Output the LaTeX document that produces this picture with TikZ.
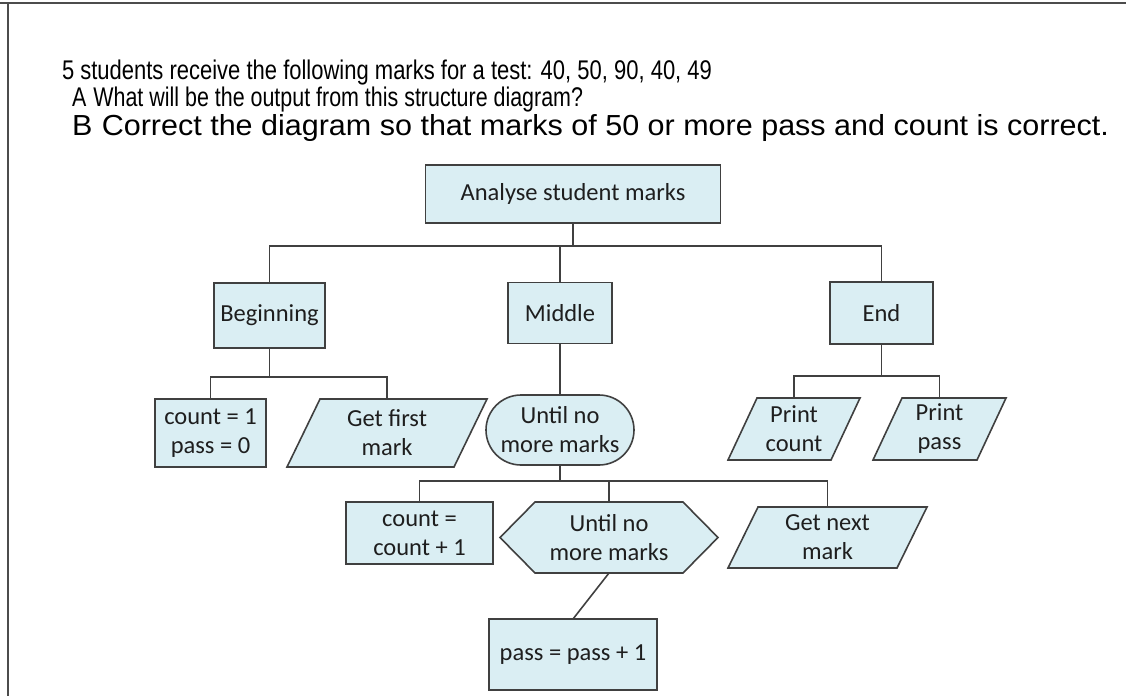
\documentclass[tikz,border=0pt]{standalone}
\usepackage{fontspec}
\setmainfont{Carlito}
\newfontfamily\arialf{Liberation Sans}
\usetikzlibrary{calc,backgrounds}
\definecolor{boxfill}{RGB}{218,238,243}
\definecolor{boxline}{RGB}{64,64,64}
\definecolor{txt}{RGB}{30,30,30}
\tikzset{
  every node/.style={inner sep=0pt, outer sep=0pt, text=txt, align=center,
    font=\fontsize{24.5}{29}\selectfont},
  box/.style={draw=boxline, fill=boxfill, line width=1.6pt, rectangle},
  stadium/.style={draw=boxline, fill=boxfill, line width=1.6pt, rectangle, rounded corners=35pt},
  ghost/.style={rectangle, draw=none},
  outline/.style={draw=boxline, fill=boxfill, line width=1.6pt, line join=miter},
  conn/.style={draw=boxline, line width=1.6pt},
  title/.style={anchor=west, font=\arialf\fontsize{27}{30}\selectfont, text=black},
  titleb/.style={anchor=west, font=\arialf\fontsize{29}{32}\selectfont, text=black},
  frame/.style={draw=black!70, line width=2pt}
}
\newcommand{\fitw}[2]{\resizebox{#1}{\height}{#2}}
\begin{document}
\begin{tikzpicture}[x=1pt,y=-1pt]
\useasboundingbox (0,0) rectangle (1126,696);
\draw[frame] (0,3) -- (1126,3);
\draw[frame] (8,3) -- (8,696);

% title
\node[title] (t1) at (62,73) {\fitw{650pt}{5 students receive the following marks for a test: 40, 50, 90, 40, 49}};
\node[title] (t2) at (72,100) {\fitw{511pt}{A\hspace{9pt}What will be the output from this structure diagram?}};
\node[titleb] (t3) at (72,128) {\fitw{1037pt}{B\hspace{9pt}Correct the diagram so that marks of 50 or more pass and count is correct.}};

% nodes
\node[box, minimum width=295, minimum height=58] (analyse) at (573,194) {Analyse student marks};
\node[box, minimum width=111, minimum height=65] (begin) at (269.5,315.5) {Beginning};
\node[box, minimum width=104, minimum height=61] (middle) at (560,313) {Middle};
\node[box, minimum width=103, minimum height=62] (end) at (881.5,313) {End};
\node[box, minimum width=111, minimum height=68] (cnt1) at (210.5,433) {count = 1\\pass = 0};
\node[ghost, minimum width=200, minimum height=68] (getfirst) at (387,433) {Get first\\mark};
\node[stadium, minimum width=148, minimum height=70] (until1) at (560,430) {Until no\\more marks};
\node[ghost, minimum width=132, minimum height=62] (printcount) at (794,429) {Print\\count};
\node[ghost, minimum width=133, minimum height=62] (printpass) at (939.5,429) {Print\\pass};
\node[box, minimum width=147, minimum height=62] (cnt2) at (419.5,533) {count =\\count + 1};
\node[ghost, minimum width=218, minimum height=71] (hex) at (609,537.5) {Until no\\more marks};
\node[ghost, minimum width=199, minimum height=61] (getnext) at (827.5,537.5) {Get next\\mark};
\node[box, minimum width=168, minimum height=71] (passbox) at (573,654.5) {pass = pass + 1};

% custom outlines behind the text nodes
\begin{pgfonlayer}{background}
\path[outline] (getfirst.south west) -- ($(getfirst.north west)+(33,0)$) -- (getfirst.north east) -- ($(getfirst.south east)+(-33,0)$) -- cycle;
\path[outline] (printcount.south west) -- ($(printcount.north west)+(29,0)$) -- (printcount.north east) -- ($(printcount.south east)+(-29,0)$) -- cycle;
\path[outline] (printpass.south west) -- ($(printpass.north west)+(29,0)$) -- (printpass.north east) -- ($(printpass.south east)+(-29,0)$) -- cycle;
\path[outline] (getnext.south west) -- ($(getnext.north west)+(30,0)$) -- (getnext.north east) -- ($(getnext.south east)+(-30,0)$) -- cycle;
\path[outline] (hex.west) -- ($(hex.north west)+(35,0)$) -- ($(hex.north east)+(-35,0)$) -- (hex.east) -- ($(hex.south east)+(-35,0)$) -- ($(hex.south west)+(35,0)$) -- cycle;
\end{pgfonlayer}

% connectors
\coordinate (bus1) at (573,246);
\coordinate (bus2) at (269.5,377);
\coordinate (bus3) at (881.5,376);
\coordinate (bus4) at (560,481);
\draw[conn] (analyse.south) -- (bus1);
\draw[conn] (bus1) -| (begin.north);
\draw[conn] (bus1) -| (middle.north);
\draw[conn] (bus1) -| (end.north);
\draw[conn] (begin.south) -- (bus2);
\draw[conn] (bus2) -| (cnt1.north);
\draw[conn] (bus2) -| (getfirst.north);
\draw[conn] (middle.south) -- (until1.north);
\draw[conn] (end.south) -- (bus3);
\draw[conn] (bus3) -| (printcount.north);
\draw[conn] (bus3) -| (printpass.north);
\draw[conn] (until1.south) -- (bus4);
\draw[conn] (bus4) -| (cnt2.north);
\draw[conn] (bus4) -| (hex.north);
\draw[conn] (bus4) -| (getnext.north);
\draw[conn] (hex.south) -- (passbox.north);
\end{tikzpicture}
\end{document}
